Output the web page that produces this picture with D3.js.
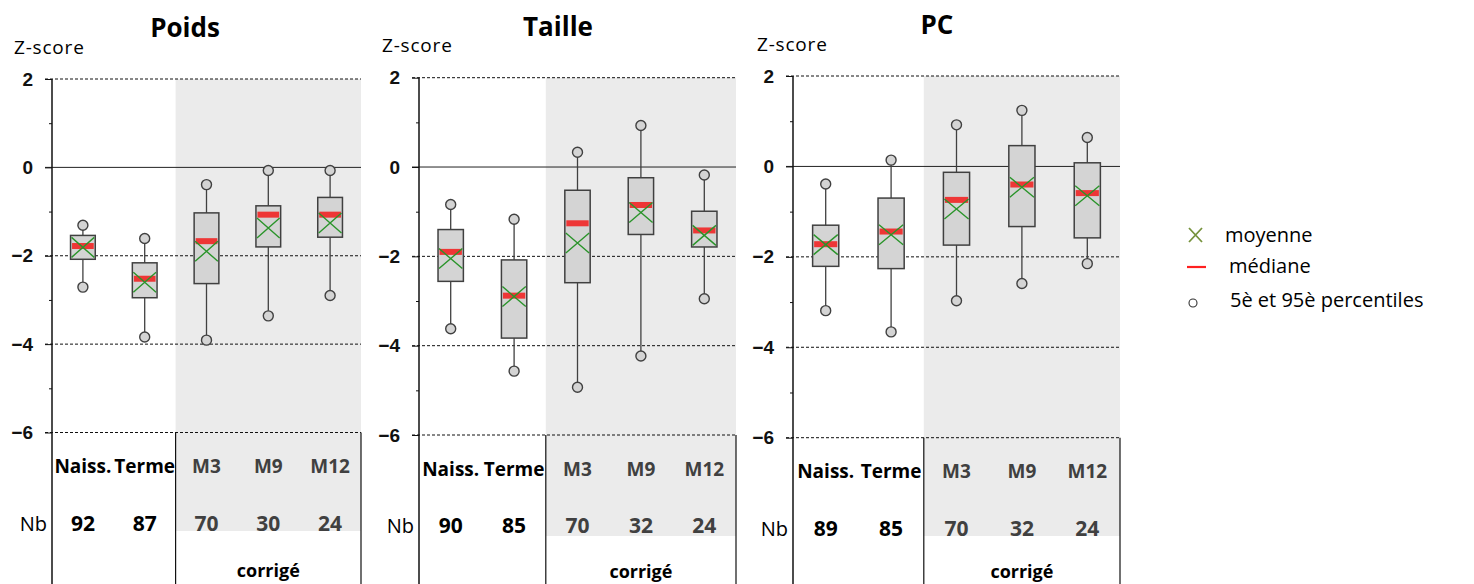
<!DOCTYPE html>
<html>
<head>
<meta charset="utf-8">
<script src="https://cdn.jsdelivr.net/npm/d3@7"></script>
<style>
  body { margin: 0; background: #fff; }
  svg { display: block; font-family: "Open Sans", sans-serif; }
</style>
</head>
<body>
<div id="chart"></div>
<script>
// data
var panelNames = ["Poids", "Taille", "PC"];
var categories = ["Naiss.", "Terme", "M3", "M9", "M12"];
var correctedCats = ["M3", "M9", "M12"];
var majorTicks = [2, 0, -2, -4, -6];
var minorTicks = [1, -1, -3, -5];

var counts = [[92, 87, 70, 30, 24], [90, 85, 70, 32, 24], [89, 85, 70, 32, 24]];
var p95 = [[-1.31, -1.61, -0.39, -0.07, -0.07], [-0.84, -1.17, 0.33, 0.93, -0.18], [-0.39, 0.14, 0.92, 1.24, 0.64]];
var q3 = [[-1.54, -2.16, -1.03, -0.87, -0.68], [-1.40, -2.08, -0.52, -0.24, -0.99], [-1.30, -0.70, -0.13, 0.46, 0.08]];
var median = [[-1.78, -2.52, -1.67, -1.07, -1.07], [-1.90, -2.88, -1.26, -0.85, -1.42], [-1.72, -1.44, -0.74, -0.40, -0.59]];
var mean = [[-1.81, -2.60, -1.90, -1.37, -1.26], [-2.05, -2.90, -1.70, -1.02, -1.53], [-1.73, -1.51, -0.94, -0.46, -0.65]];
var q1 = [[-2.08, -2.95, -2.63, -1.80, -1.58], [-2.56, -3.83, -2.59, -1.51, -1.79], [-2.21, -2.26, -1.74, -1.33, -1.58]];
var p5 = [[-2.71, -3.84, -3.91, -3.36, -2.90], [-3.62, -4.57, -4.93, -4.23, -2.95], [-3.19, -3.66, -2.97, -2.59, -2.15]];

var legendLabels = ["moyenne", "médiane", "5è et 95è percentiles"];

// layout
var width = 1474, height = 584;
var layout = [
    { x0: 52, x1: 361, yTop: 79, yBot: 432.5, shadeBot: 531, titleX: 185, titleY: 28, zX: 14, zY: 47 },
    { x0: 419, x1: 736, yTop: 77.7, yBot: 435, shadeBot: 536, titleX: 558, titleY: 27, zX: 382, zY: 45 },
    { x0: 793, x1: 1120, yTop: 76, yBot: 437.7, shadeBot: 536, titleX: 937, titleY: 25, zX: 757, zY: 44 }
];
var boxStroke = "#404040";
var boxFill = "#d4d4d4";
var shadeFill = "#ebebeb";
var meanColor = "#2a942a";
var medianColor = "#ee3636";
var grayText = "#404040";

var svg = d3.select("#chart").append("svg")
    .attr("width", width)
    .attr("height", height);

panelNames.forEach(function (name, p) {
    var L = layout[p];
    var g = svg.append("g");

    var y = d3.scaleLinear().domain([2, -6]).range([L.yTop, L.yBot]);
    var x = d3.scaleBand().domain(categories).range([L.x0, L.x1]).paddingInner(0).paddingOuter(0);
    var cx = function (c) { return x(c) + x.bandwidth() / 2; };
    var shadeX = x(correctedCats[0]);
    var boxW = x.bandwidth() * 0.4;

    // shaded "corrigé" area
    g.append("rect")
        .attr("x", shadeX)
        .attr("y", L.yTop)
        .attr("width", L.x1 - shadeX)
        .attr("height", L.shadeBot - L.yTop)
        .attr("fill", shadeFill);

    // grid lines
    g.selectAll("line.grid").data(majorTicks).enter().append("line")
        .attr("class", "grid")
        .attr("x1", L.x0 - 7)
        .attr("x2", L.x1)
        .attr("y1", function (d) { return y(d); })
        .attr("y2", function (d) { return y(d); })
        .attr("stroke", function (d) { return d === 0 ? "#222" : "#111"; })
        .attr("stroke-width", 1)
        .attr("stroke-dasharray", function (d) { return d === 0 ? null : "3,2"; });

    // table vertical lines
    [shadeX, L.x1].forEach(function (vx) {
        g.append("line")
            .attr("x1", vx).attr("x2", vx)
            .attr("y1", L.yBot).attr("y2", height)
            .attr("stroke", "#111").attr("stroke-width", 1.2);
    });

    // y axis
    var axis = g.append("g")
        .attr("transform", "translate(" + L.x0 + ",0)")
        .call(d3.axisLeft(y).tickValues(majorTicks).tickSize(7).tickPadding(12));
    axis.select(".domain").remove();
    axis.selectAll("text")
        .attr("font-size", 19)
        .attr("font-weight", "bold")
        .attr("fill", "#111");
    axis.selectAll(".tick line").attr("stroke", "#111");

    var minor = g.append("g")
        .attr("transform", "translate(" + L.x0 + ",0)")
        .call(d3.axisLeft(y).tickValues(minorTicks).tickSize(3).tickFormat(""));
    minor.select(".domain").remove();
    minor.selectAll(".tick line").attr("stroke", "#111");

    g.append("line")
        .attr("x1", L.x0).attr("x2", L.x0)
        .attr("y1", L.yTop).attr("y2", height)
        .attr("stroke", "#111").attr("stroke-width", 1.5);

    // title and axis label
    g.append("text")
        .attr("x", L.titleX).attr("y", L.titleY).attr("dy", ".35em")
        .attr("text-anchor", "middle")
        .attr("font-size", 26).attr("font-weight", "bold")
        .text(name);
    g.append("text")
        .attr("x", L.zX).attr("y", L.zY).attr("dy", ".35em")
        .attr("font-size", 19).attr("letter-spacing", 0.8)
        .text("Z-score");

    // boxes
    var items = categories.map(function (c, i) {
        return { cat: c, p5: p5[p][i], q1: q1[p][i], med: median[p][i], mean: mean[p][i], q3: q3[p][i], p95: p95[p][i] };
    });
    var box = g.selectAll("g.box").data(items).enter().append("g").attr("class", "box");

    box.append("line")
        .attr("x1", function (d) { return cx(d.cat); })
        .attr("x2", function (d) { return cx(d.cat); })
        .attr("y1", function (d) { return y(d.p95); })
        .attr("y2", function (d) { return y(d.p5); })
        .attr("stroke", boxStroke).attr("stroke-width", 1.3);

    box.append("rect")
        .attr("x", function (d) { return cx(d.cat) - boxW / 2; })
        .attr("y", function (d) { return y(d.q3); })
        .attr("width", boxW)
        .attr("height", function (d) { return y(d.q1) - y(d.q3); })
        .attr("fill", boxFill)
        .attr("stroke", boxStroke).attr("stroke-width", 1.5);

    box.append("rect")
        .attr("x", function (d) { return cx(d.cat) - boxW / 2 + 1.5; })
        .attr("y", function (d) { return y(d.med) - 3; })
        .attr("width", boxW - 3)
        .attr("height", 6)
        .attr("fill", medianColor);

    box.append("path")
        .attr("d", function (d) {
            var mx = cx(d.cat), my = y(d.mean), hw = boxW / 2 - 1, hh = 10;
            return "M" + (mx - hw) + "," + (my - hh) + "L" + (mx + hw) + "," + (my + hh) +
                "M" + (mx - hw) + "," + (my + hh) + "L" + (mx + hw) + "," + (my - hh);
        })
        .attr("stroke", meanColor).attr("stroke-width", 1.4).attr("fill", "none");

    box.selectAll("circle").data(function (d) {
        return [{ cat: d.cat, v: d.p95 }, { cat: d.cat, v: d.p5 }];
    }).enter().append("circle")
        .attr("cx", function (d) { return cx(d.cat); })
        .attr("cy", function (d) { return y(d.v); })
        .attr("r", 5)
        .attr("fill", boxFill)
        .attr("stroke", boxStroke).attr("stroke-width", 1.4);

    // table rows
    var isCorr = function (c) { return correctedCats.indexOf(c) >= 0; };
    g.selectAll("text.cat").data(categories).enter().append("text")
        .attr("class", "cat")
        .attr("x", cx)
        .attr("y", L.yBot + 34).attr("dy", ".35em")
        .attr("text-anchor", "middle")
        .attr("font-size", 19).attr("font-weight", "bold")
        .attr("fill", function (c) { return isCorr(c) ? grayText : "#000"; })
        .text(String);

    g.selectAll("text.nb").data(categories).enter().append("text")
        .attr("class", "nb")
        .attr("x", cx)
        .attr("y", L.yBot + 91).attr("dy", ".35em")
        .attr("text-anchor", "middle")
        .attr("font-size", 21).attr("font-weight", "bold")
        .attr("fill", function (c) { return isCorr(c) ? grayText : "#000"; })
        .text(function (c, i) { return counts[p][i]; });

    g.append("text")
        .attr("x", L.x0 - 5).attr("y", L.yBot + 91).attr("dy", ".35em")
        .attr("text-anchor", "end")
        .attr("font-size", 20)
        .text("Nb");

    g.append("text")
        .attr("x", (shadeX + L.x1) / 2).attr("y", Math.min(L.yBot + 138, 572)).attr("dy", ".35em")
        .attr("text-anchor", "middle")
        .attr("font-size", 18).attr("font-weight", "bold")
        .text("corrigé");
});

// legend
var lg = svg.append("g");
lg.append("path")
    .attr("d", "M1189,228L1202,242M1189,242L1202,228")
    .attr("stroke", "#76923c").attr("stroke-width", 1.8).attr("fill", "none");
lg.append("line")
    .attr("x1", 1187).attr("x2", 1206).attr("y1", 267).attr("y2", 267)
    .attr("stroke", "#ff2020").attr("stroke-width", 2.2);
lg.append("circle")
    .attr("cx", 1193).attr("cy", 303).attr("r", 4)
    .attr("fill", "#fff").attr("stroke", "#333").attr("stroke-width", 1.1);
lg.selectAll("text").data(legendLabels).enter().append("text")
    .attr("x", function (d, i) { return [1225, 1229, 1230][i]; })
    .attr("y", function (d, i) { return [235, 266, 300][i]; })
    .attr("dy", ".35em")
    .attr("font-size", 20)
    .text(String);
</script>
</body>
</html>
